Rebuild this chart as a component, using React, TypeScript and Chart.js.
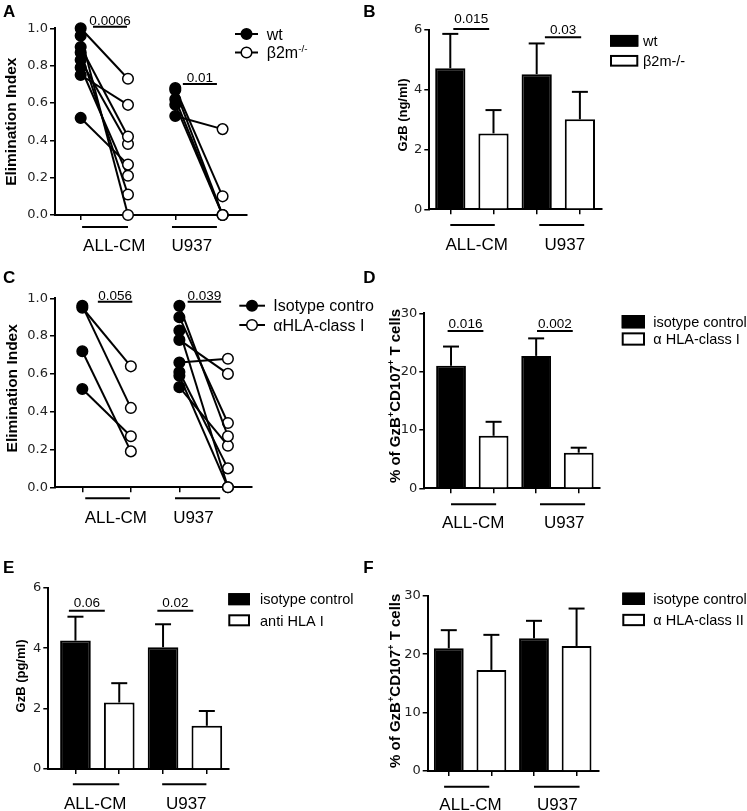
import React, { useEffect, useRef } from "react";
import { Chart, registerables } from "chart.js";

Chart.register(...registerables);

// ---------------- data ----------------
const groups = ["ALL-CM", "U937"];

// A: Elimination index, wt vs β2m-/- (paired)
const aAllCmWt = [1.0, 0.75, 0.52, 0.96, 0.9, 0.87, 0.83, 0.79];
const aAllCmKo = [0.73, 0.59, 0.27, 0.0, 0.42, 0.11, 0.38, 0.21];
const aU937Wt = [0.68, 0.67, 0.62, 0.59, 0.53];
const aU937Ko = [0.1, 0.0, 0.0, 0.0, 0.46];
const aPValues = ["0.0006", "0.01"];
const indexTicks = [0, 0.2, 0.4, 0.6, 0.8, 1.0];

// B: GzB (ng/ml), wt vs β2m-/-
const bWt = [4.72, 4.52];
const bWtErr = [1.15, 1.03];
const bKo = [2.54, 3.01];
const bKoErr = [0.78, 0.92];
const bPValues = ["0.015", "0.03"];
const gzbTicks = [0, 2, 4, 6];

// C: Elimination index, isotype control vs αHLA-class I (paired)
const cAllCmIso = [0.95, 0.96, 0.72, 0.52];
const cAllCmHla = [0.64, 0.42, 0.19, 0.27];
const cU937Iso = [0.96, 0.9, 0.83, 0.78, 0.66, 0.61, 0.59, 0.53];
const cU937Hla = [0.27, 0.34, 0.0, 0.6, 0.68, 0.1, 0.0, 0.22];
const cPValues = ["0.056", "0.039"];

// D: % GzB+CD107+ T cells, isotype control vs α HLA-class I
const dIso = [21.0, 22.7];
const dIsoErr = [3.3, 3.0];
const dHla = [9.0, 6.1];
const dHlaErr = [2.4, 0.86];
const dPValues = ["0.016", "0.002"];
const pctTicks = [0, 10, 20, 30];

// E: GzB (pg/ml), isotype control vs anti HLA I
const eIso = [4.25, 4.03];
const eIsoErr = [0.79, 0.76];
const eHla = [2.2, 1.43];
const eHlaErr = [0.64, 0.49];
const ePValues = ["0.06", "0.02"];

// F: % GzB+CD107+ T cells, isotype control vs α HLA-class II
const fIso = [21.0, 22.7];
const fIsoErr = [3.1, 3.0];
const fHla = [17.3, 21.4];
const fHlaErr = [6.0, 6.4];

// ---------------- helpers ----------------
const FAMILY = "'Liberation Sans', Arial, Helvetica, sans-serif";
const TICK_FAMILY = "'DejaVu Sans', Verdana, sans-serif";
const fnt = (size: number, bold = false) => `${bold ? "bold " : ""}${size}px ${FAMILY}`;

type Seg = { t: string; sup?: boolean };

function pairSets(wt: number[], ko: number[], x0: number) {
  return wt.map((w, i) => ({
    data: [
      { x: x0, y: w },
      { x: x0 + 1, y: ko[i] },
    ],
    borderColor: "#000",
    borderWidth: 2,
    pointBackgroundColor: ["#000", "#fff"],
    pointBorderColor: "#000",
    pointBorderWidth: 1.5,
    pointRadius: 5.3,
    clip: false,
    fill: false,
    tension: 0,
  }));
}

function barSets(a: number[], b: number[]) {
  const common = {
    borderColor: "#000",
    borderWidth: 2,
    grouped: false,
    barPercentage: 0.7,
    categoryPercentage: 1,
    borderSkipped: "start",
  };
  return [
    { ...common, data: a.map((v, i) => ({ x: i * 2, y: v })), backgroundColor: "#000" },
    { ...common, data: b.map((v, i) => ({ x: i * 2 + 1, y: v })), backgroundColor: "#fff" },
  ];
}

function errSets(a: number[], ae: number[], b: number[], be: number[]) {
  return [
    { pos: a.map((_, i) => i * 2), val: a, err: ae },
    { pos: b.map((_, i) => i * 2 + 1), val: b, err: be },
  ];
}

const pctTitle: Seg[] = [
  { t: "% of GzB" },
  { t: "+", sup: true },
  { t: "CD107" },
  { t: "+", sup: true },
  { t: " T cells" },
];

// ---------------- panel layout ----------------
const panels: any[] = [
  {
    letter: "A", letterPos: [3, 16.7],
    origin: [0, 0], size: [385, 265],
    area: [55, 28.3, 247, 215],
    xRange: [-0.543, 3.516],
    yTicks: indexTicks, yDec: 1,
    yTitle: [{ t: "Elimination Index" }], yTitleSize: 15.5, yTitlePos: [10, 121.7],
    kind: "pair",
    datasets: [...pairSets(aAllCmWt, aAllCmKo, 0), ...pairSets(aU937Wt, aU937Ko, 2)],
    sig: [
      { from: 0.26, to: 0.98, y: 26.7, textY: 20.5, text: aPValues[0] },
      { from: 2.16, to: 2.88, y: 84, textY: 77.5, text: aPValues[1] },
    ],
    under: [
      { from: 0.03, to: 1.0, y: 227, label: groups[0], labelX: 0.71, labelY: 245 },
      { from: 1.93, to: 2.88, y: 227, label: groups[1], labelX: 2.35, labelY: 245 },
    ],
    legend: {
      kind: "line", x1: 235, x2: 258, cx: 246.5, textX: 266.7, size: 16,
      rows: [
        { y: 34, filled: true, label: [{ t: "wt" }] },
        { y: 52.5, filled: false, label: [{ t: "β2m" }, { t: "-/-", sup: true }] },
      ],
    },
  },
  {
    letter: "B", letterPos: [363.3, 16.7],
    origin: [355, 0], size: [392, 265],
    area: [429.3, 30, 601.7, 209.3],
    xRange: [-0.486, 3.505],
    yTicks: gzbTicks, yDec: 0,
    yTitle: [{ t: "GzB (ng/ml)" }], yTitleSize: 13, yTitlePos: [402.8, 115],
    kind: "bar",
    datasets: barSets(bWt, bKo),
    errors: errSets(bWt, bWtErr, bKo, bKoErr),
    sig: [
      { from: 0.07, to: 0.9, y: 29, textY: 18.3, text: bPValues[0] },
      { from: 2.19, to: 3.03, y: 37.3, textY: 28.7, text: bPValues[1] },
    ],
    under: [
      { from: 0.0, to: 1.03, y: 225, label: groups[0], labelX: 0.61, labelY: 243.7 },
      { from: 2.06, to: 3.1, y: 225, label: groups[1], labelX: 2.65, labelY: 243.7 },
    ],
    legend: {
      kind: "box", x1: 610, x2: 638.3, h: 11.7, textX: 643, size: 14.5,
      rows: [
        { y: 40.8, filled: true, label: [{ t: "wt" }] },
        { y: 60.8, filled: false, label: [{ t: "β2m-/-" }] },
      ],
    },
  },
  {
    letter: "C", letterPos: [3, 283.3],
    origin: [0, 265], size: [385, 275],
    area: [55, 298.3, 251.7, 487.3],
    xRange: [-0.563, 3.49],
    yTicks: indexTicks, yDec: 1,
    yTitle: [{ t: "Elimination Index" }], yTitleSize: 15.5, yTitlePos: [11, 388.3],
    kind: "pair",
    datasets: [...pairSets(cAllCmIso, cAllCmHla, 0), ...pairSets(cU937Iso, cU937Hla, 2)],
    sig: [
      { from: 0.32, to: 1.03, y: 301.7, textY: 295.5, text: cPValues[0] },
      { from: 2.17, to: 2.86, y: 301.7, textY: 295.5, text: cPValues[1] },
    ],
    under: [
      { from: 0.06, to: 0.98, y: 498.3, label: groups[0], labelX: 0.69, labelY: 516.7 },
      { from: 1.91, to: 2.84, y: 498.3, label: groups[1], labelX: 2.29, labelY: 516.7 },
    ],
    legend: {
      kind: "line", x1: 239.3, x2: 265, cx: 252, textX: 273.3, size: 16,
      rows: [
        { y: 305.7, filled: true, label: [{ t: "Isotype contro" }] },
        { y: 325, filled: false, label: [{ t: "αHLA-class I" }] },
      ],
    },
  },
  {
    letter: "D", letterPos: [363.3, 283.3],
    origin: [355, 265], size: [392, 275],
    area: [424.3, 313.3, 600, 488.3],
    xRange: [-0.628, 3.5],
    yTicks: pctTicks, yDec: 0,
    yTitle: pctTitle, yTitleSize: 15, yTitlePos: [395, 396],
    kind: "bar",
    datasets: barSets(dIso, dHla),
    errors: errSets(dIso, dIsoErr, dHla, dHlaErr),
    sig: [
      { from: -0.08, to: 0.76, y: 331, textY: 323, text: dPValues[0] },
      { from: 2.02, to: 2.86, y: 331, textY: 323, text: dPValues[1] },
    ],
    under: [
      { from: 0.0, to: 1.06, y: 504.3, label: groups[0], labelX: 0.52, labelY: 521.7 },
      { from: 2.09, to: 3.15, y: 504.3, label: groups[1], labelX: 2.66, labelY: 521.7 },
    ],
    legend: {
      kind: "box", x1: 621.7, x2: 645, h: 13.3, textX: 653.3, size: 14.5,
      rows: [
        { y: 321.7, filled: true, label: [{ t: "isotype control" }] },
        { y: 339, filled: false, label: [{ t: "α HLA-class I" }] },
      ],
    },
  },
  {
    letter: "E", letterPos: [3, 573.3],
    origin: [0, 540], size: [385, 271],
    area: [48.3, 587.7, 228.3, 769],
    xRange: [-0.62, 3.49],
    yTicks: gzbTicks, yDec: 0,
    yTitle: [{ t: "GzB (pg/ml)" }], yTitleSize: 13, yTitlePos: [20.8, 676],
    kind: "bar",
    datasets: barSets(eIso, eHla),
    errors: errSets(eIso, eIsoErr, eHla, eHlaErr),
    sig: [
      { from: -0.15, to: 0.67, y: 610.7, textY: 602.5, text: ePValues[0] },
      { from: 1.87, to: 2.69, y: 610.7, textY: 602.5, text: ePValues[1] },
    ],
    under: [
      { from: -0.06, to: 1.0, y: 784.3, label: groups[0], labelX: 0.45, labelY: 802.5 },
      { from: 1.98, to: 2.99, y: 784.3, label: groups[1], labelX: 2.53, labelY: 802.5 },
    ],
    legend: {
      kind: "box", x1: 228.3, x2: 250, h: 12, textX: 260, size: 14.5,
      rows: [
        { y: 599.2, filled: true, label: [{ t: "isotype control" }] },
        { y: 620.3, filled: false, label: [{ t: "anti HLA I" }] },
      ],
    },
  },
  {
    letter: "F", letterPos: [363.3, 573.3],
    origin: [355, 540], size: [392, 271],
    area: [427.7, 595.7, 598.3, 771],
    xRange: [-0.495, 3.51],
    yTicks: pctTicks, yDec: 0,
    yTitle: pctTitle, yTitleSize: 15, yTitlePos: [395, 680.8],
    kind: "bar",
    datasets: barSets(fIso, fHla),
    errors: errSets(fIso, fIsoErr, fHla, fHlaErr),
    sig: [],
    under: [
      { from: -0.11, to: 0.95, y: 786.7, label: groups[0], labelX: 0.51, labelY: 804.2 },
      { from: 2.0, to: 3.07, y: 786.7, label: groups[1], labelX: 2.55, labelY: 804.2 },
    ],
    legend: {
      kind: "box", x1: 622.3, x2: 645, h: 12.3, textX: 653.3, size: 14.5,
      rows: [
        { y: 598.8, filled: true, label: [{ t: "isotype control" }] },
        { y: 620, filled: false, label: [{ t: "α HLA-class II" }] },
      ],
    },
  },
];

// ---------------- drawing helpers ----------------
function segsWidth(ctx: CanvasRenderingContext2D, segs: Seg[], size: number, bold: boolean) {
  let w = 0;
  for (const s of segs) {
    ctx.font = fnt(s.sup ? size * 0.62 : size, bold);
    w += ctx.measureText(s.t).width;
  }
  return w;
}

function drawSegs(ctx: CanvasRenderingContext2D, segs: Seg[], x: number, cy: number, size: number, bold: boolean) {
  let cx = x;
  const base = cy + size * 0.36;
  ctx.textBaseline = "alphabetic";
  ctx.textAlign = "left";
  for (const s of segs) {
    const fs = s.sup ? size * 0.62 : size;
    ctx.font = fnt(fs, bold);
    ctx.fillText(s.t, cx, s.sup ? base - size * 0.42 : base);
    cx += ctx.measureText(s.t).width;
  }
}

function seg(ctx: CanvasRenderingContext2D, x1: number, y1: number, x2: number, y2: number) {
  ctx.beginPath();
  ctx.moveTo(x1, y1);
  ctx.lineTo(x2, y2);
  ctx.stroke();
}

function drawDecor(chart: any, p: any) {
  const ctx: CanvasRenderingContext2D = chart.ctx;
  const xs = chart.scales.x;
  const ys = chart.scales.y;
  const ox = p.origin[0];
  const oy = p.origin[1];
  ctx.save();
  ctx.fillStyle = "#000";
  ctx.strokeStyle = "#000";
  ctx.lineCap = "butt";

  // error bars
  if (p.errors) {
    ctx.lineWidth = 2;
    for (const e of p.errors) {
      e.val.forEach((v: number, i: number) => {
        const x = xs.getPixelForValue(e.pos[i]);
        const y0 = ys.getPixelForValue(v);
        const y1 = ys.getPixelForValue(v + e.err[i]);
        seg(ctx, x, y0, x, y1);
        seg(ctx, x - 8, y1, x + 8, y1);
      });
    }
  }

  // significance bars
  for (const s of p.sig) {
    const x1 = xs.getPixelForValue(s.from);
    const x2 = xs.getPixelForValue(s.to);
    ctx.lineWidth = 2;
    seg(ctx, x1, s.y - oy, x2, s.y - oy);
    ctx.font = fnt(13.5);
    ctx.textAlign = "center";
    ctx.textBaseline = "alphabetic";
    ctx.fillText(s.text, (x1 + x2) / 2, s.textY - oy + 13.5 * 0.36);
  }

  // group underlines + labels
  for (const u of p.under) {
    const x1 = xs.getPixelForValue(u.from);
    const x2 = xs.getPixelForValue(u.to);
    ctx.lineWidth = 2;
    seg(ctx, x1, u.y - oy, x2, u.y - oy);
    ctx.font = fnt(17);
    ctx.textAlign = "center";
    ctx.textBaseline = "alphabetic";
    ctx.fillText(u.label, xs.getPixelForValue(u.labelX), u.labelY - oy + 17 * 0.36);
  }

  // legend
  const lg = p.legend;
  for (const r of lg.rows) {
    const y = r.y - oy;
    if (lg.kind === "line") {
      ctx.lineWidth = 2;
      seg(ctx, lg.x1 - ox, y, lg.x2 - ox, y);
      ctx.beginPath();
      ctx.arc(lg.cx - ox, y, 5.3, 0, Math.PI * 2);
      ctx.fillStyle = r.filled ? "#000" : "#fff";
      ctx.fill();
      ctx.lineWidth = 1.5;
      ctx.stroke();
    } else {
      const x = lg.x1 - ox;
      const w = lg.x2 - lg.x1;
      const top = y - lg.h / 2;
      ctx.fillStyle = r.filled ? "#000" : "#fff";
      ctx.fillRect(x, top, w, lg.h);
      ctx.lineWidth = 2;
      ctx.strokeRect(x + 1, top + 1, w - 2, lg.h - 2);
    }
    ctx.fillStyle = "#000";
    drawSegs(ctx, r.label, lg.textX - ox, y, lg.size, false);
  }

  // y-axis title (rotated)
  const tw = segsWidth(ctx, p.yTitle, p.yTitleSize, true);
  ctx.save();
  ctx.translate(p.yTitlePos[0] - ox, p.yTitlePos[1] - oy);
  ctx.rotate(-Math.PI / 2);
  drawSegs(ctx, p.yTitle, -tw / 2, 0, p.yTitleSize, true);
  ctx.restore();

  // panel letter
  ctx.font = fnt(17, true);
  ctx.textAlign = "left";
  ctx.textBaseline = "alphabetic";
  ctx.fillText(p.letter, p.letterPos[0] - ox, p.letterPos[1] - oy);

  ctx.restore();
}

const X_AXIS_H = 10;

function makeChart(canvas: HTMLCanvasElement, p: any) {
  const [ox, oy] = p.origin;
  const [W, H] = p.size;
  const left = p.area[0] - ox;
  const top = p.area[1] - oy;
  const right = p.area[2] - ox;
  const bottom = p.area[3] - oy;
  const yTicks: number[] = p.yTicks;

  return new Chart(canvas, {
    type: p.kind === "bar" ? "bar" : "line",
    data: { datasets: p.datasets },
    options: {
      responsive: false,
      maintainAspectRatio: false,
      animation: false,
      devicePixelRatio: 1,
      events: [],
      layout: {
        padding: { left: 0, top, right: W - right, bottom: H - bottom - X_AXIS_H },
      },
      plugins: {
        legend: { display: false },
        tooltip: { enabled: false },
        title: { display: false },
      },
      scales: {
        x: {
          type: "linear",
          min: p.xRange[0],
          max: p.xRange[1],
          offset: false,
          afterBuildTicks: (s: any) => {
            s.ticks = [0, 1, 2, 3].map((v) => ({ value: v }));
          },
          afterFit: (s: any) => {
            s.height = X_AXIS_H;
          },
          ticks: { display: false },
          grid: {
            display: true,
            offset: false,
            drawOnChartArea: false,
            drawTicks: true,
            tickLength: 5,
            color: "#000",
            lineWidth: 1.5,
          },
          border: { display: true, color: "#000", width: 2 },
        },
        y: {
          type: "linear",
          min: yTicks[0],
          max: yTicks[yTicks.length - 1],
          afterBuildTicks: (s: any) => {
            s.ticks = yTicks.map((v) => ({ value: v }));
          },
          afterFit: (s: any) => {
            s.width = left;
          },
          ticks: {
            callback: (v: any) => Number(v).toFixed(p.yDec),
            font: { family: TICK_FAMILY, size: 13 },
            color: "#222",
            padding: 2,
          },
          grid: {
            display: true,
            drawOnChartArea: false,
            drawTicks: true,
            tickLength: 5,
            color: "#000",
            lineWidth: 1.5,
          },
          border: { display: true, color: "#000", width: 2 },
        },
      },
    } as any,
    plugins: [
      {
        id: "decor",
        afterDraw: (chart: any) => drawDecor(chart, p),
      },
    ],
  } as any);
}

function Panel({ p }: { p: any }) {
  const ref = useRef<HTMLCanvasElement | null>(null);
  useEffect(() => {
    if (!ref.current) return;
    const chart = makeChart(ref.current, p);
    return () => chart.destroy();
  }, [p]);
  return (
    <canvas
      ref={ref}
      width={p.size[0]}
      height={p.size[1]}
      style={{
        position: "absolute",
        left: p.origin[0],
        top: p.origin[1],
        width: p.size[0],
        height: p.size[1],
      }}
    />
  );
}

export default function App() {
  return (
    <div
      style={{
        position: "absolute",
        left: 0,
        top: 0,
        width: 747,
        height: 811,
        background: "#fff",
        overflow: "hidden",
      }}
    >
      {panels.map((p) => (
        <Panel key={p.letter} p={p} />
      ))}
    </div>
  );
}
